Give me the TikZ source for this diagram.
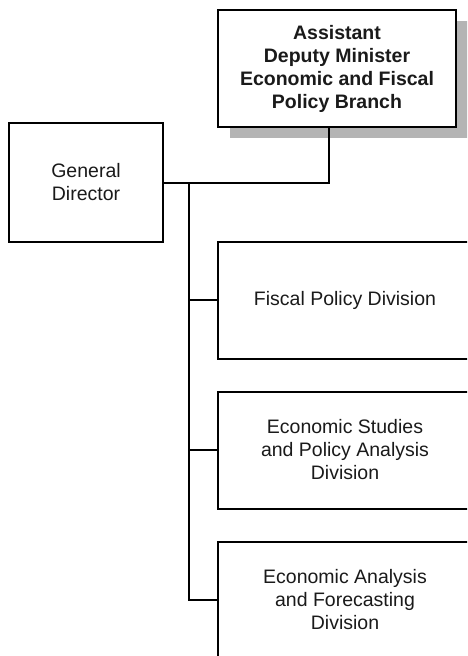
\documentclass[tikz,border=0pt]{standalone}
\usepackage{fontspec}
\setmainfont{Liberation Sans}
\usetikzlibrary{shadows}
\definecolor{txt}{HTML}{1A1A1A}
\definecolor{shade}{HTML}{B4B4B4}
\begin{document}
\begin{tikzpicture}[x=1pt,y=-1pt,
  orgbox/.style={draw=black, line width=2pt, fill=white, align=center,
    text=txt, font=\fontsize{19.5}{23}\selectfont, inner sep=0pt,
    minimum width=#1, minimum height=117pt},
  orgbox/.default=254pt,
  link/.style={draw=black, line width=2pt}]
\useasboundingbox (0,0) rectangle (467,656);
\clip (0,0) rectangle (467,656);
% head
\node[orgbox=238pt, font=\fontsize{19.5}{23}\selectfont\bfseries,
  drop shadow={shadow xshift=12pt, shadow yshift=-11pt, fill=shade, opacity=1}]
  (head) at (337,68.5) {Assistant\\Deputy Minister\\Economic and Fiscal\\Policy Branch};
\node[orgbox=154pt, minimum height=119pt] (gd) at (86,182.5) {General\\Director};
\node[orgbox] (fp) at (345,300) {Fiscal Policy Division};
\node[orgbox] (es) at (345,450) {Economic Studies\\and Policy Analysis\\Division};
\node[orgbox] (ea) at (345,600) {Economic Analysis\\and Forecasting\\Division};
\coordinate (j) at (329,181.5);
\coordinate (t) at (189,181.5);
\draw[link] (head.south -| j) |- (gd.east);
\draw[link] (gd.east -| t) |- (ea.west);
\draw[link] (t |- fp.west) -- (fp.west);
\draw[link] (t |- es.west) -- (es.west);
\end{tikzpicture}
\end{document}
